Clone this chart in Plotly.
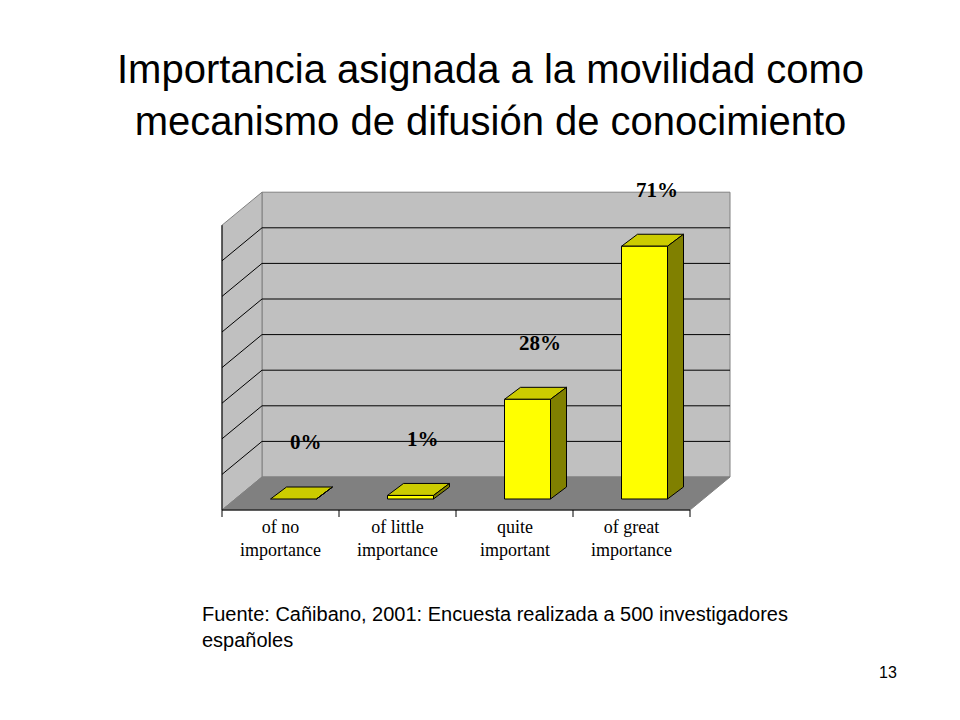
import plotly.graph_objects as go

categories = ["of no<br>importance", "of little<br>importance", "quite<br>important", "of great<br>importance"]
values = [0, 1, 28, 71]
labels = ["0%", "1%", "28%", "71%"]
ymax = 80
ystep = 10

SH = 8  # page offset compensation
PXX = 117.0
PXY = 3.56
x0 = -(222 - SH) / PXX
x1 = (960 - 222 + SH) / PXX
y0 = (499 - SH - 720) / PXY
y1 = (499 - SH) / PXY
wdx = 40 / PXX; wdy = 33 / PXY
bdx = 16 / PXX; bdy = 12 / PXY
floor_front = -11 / PXY
bw = 46 / PXX
boff = 13 / PXX
n = len(categories)

fig = go.Figure()

def poly(xs, ys, fill, line="black", w=1):
    fig.add_trace(go.Scatter(x=xs + [xs[0]], y=ys + [ys[0]], fill="toself", fillcolor=fill,
                             mode="lines", line=dict(color=line, width=w), hoverinfo="skip", showlegend=False))

fb = floor_front; bb = floor_front + wdy; top = bb + ymax
poly([wdx, n + wdx, n + wdx, wdx], [bb, bb, top, top], "#C0C0C0", "#808080")
poly([0, wdx, wdx, 0], [fb, bb, top, top - wdy], "#C0C0C0", "#808080")
for k in range(1, ymax // ystep):
    g = bb + k * ystep
    fig.add_trace(go.Scatter(x=[0, wdx, n + wdx], y=[g - wdy, g, g], mode="lines",
                             line=dict(color="black", width=1), hoverinfo="skip", showlegend=False))
poly([0, n, n + wdx, wdx], [fb, fb, bb, bb], "#808080", "#808080")

for i, v in enumerate(values):
    c = i + 0.5 + boff
    l, r = c - bw / 2, c + bw / 2
    poly([l, r, r + bdx, l + bdx], [v, v, v + bdy, v + bdy], "#CCCC00")
    poly([r, r + bdx, r + bdx, r], [0, bdy, v + bdy, v], "#808000")
    if v > 0:
        poly([l, r, r, l], [0, 0, v, v], "#FFFF00")

for i, v in enumerate(values):
    fig.add_annotation(x=i + 0.5 + 0.22, y=v + 12, text="<b>%s</b>" % labels[i], showarrow=False,
                       font=dict(family="Liberation Serif", size=21, color="black"), yanchor="bottom")

fig.add_trace(go.Scatter(x=[0, 0, n], y=[top - wdy, fb, fb], mode="lines",
                         line=dict(color="black", width=1), hoverinfo="skip", showlegend=False))
for i in range(n + 1):
    fig.add_trace(go.Scatter(x=[i, i], y=[fb, fb - 7 / PXY], mode="lines",
                             line=dict(color="black", width=1), hoverinfo="skip", showlegend=False))
for i, c in enumerate(categories):
    fig.add_annotation(x=i + 0.5, y=fb - 5 / PXY, text=c, showarrow=False, yanchor="top",
                       font=dict(family="Liberation Serif", size=18, color="black"))

fig.add_annotation(x=490 - SH, y=95 - SH, xref="x2", yref="y2", text="Importancia asignada a la movilidad como<br>mecanismo de difusión de conocimiento",
                   showarrow=False, font=dict(family="Liberation Sans", size=40, color="black"))
fig.add_annotation(x=200 - SH, y=627 - SH, xref="x2", yref="y2", xanchor="left",
                   text="Fuente: Cañibano, 2001: Encuesta realizada a 500 investigadores<br>españoles",
                   showarrow=False, align="left", font=dict(family="Liberation Sans", size=20, color="black"))
fig.add_annotation(x=888 - SH, y=672 - SH, xref="x2", yref="y2", text="13", showarrow=False,
                   font=dict(family="Liberation Sans", size=16, color="black"))

fig.update_layout(width=960, height=720, margin=dict(l=0, r=0, t=0, b=0),
                  paper_bgcolor="white", plot_bgcolor="white",
                  xaxis=dict(range=[x0, x1], visible=False, domain=[0, 1]),
                  yaxis=dict(range=[y0, y1], visible=False, domain=[0, 1]),
                  xaxis2=dict(range=[0, 960], visible=False, overlaying="x"),
                  yaxis2=dict(range=[720, 0], visible=False, overlaying="y"))
fig.add_trace(go.Scatter(x=[0], y=[0], xaxis="x2", yaxis="y2", mode="markers",
                         marker=dict(opacity=0), hoverinfo="skip", showlegend=False))
fig.write_html("out.html")
